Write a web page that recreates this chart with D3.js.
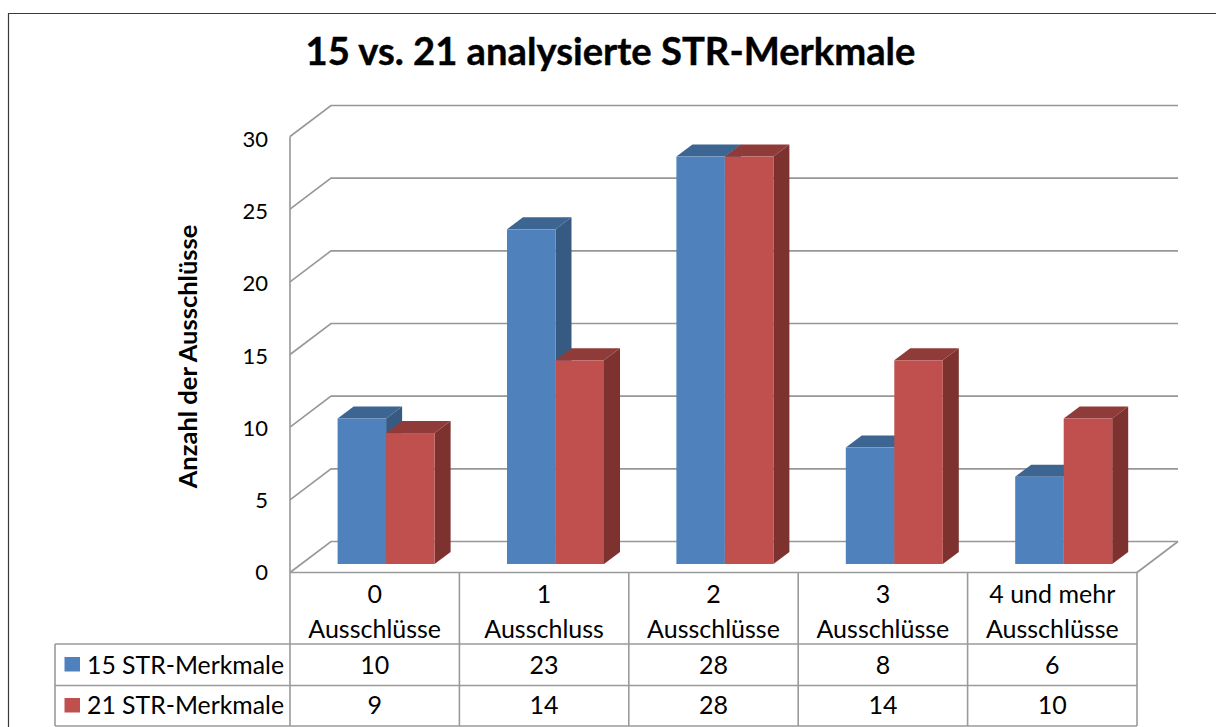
<!DOCTYPE html>
<html><head><meta charset="utf-8">
<script src="https://cdn.jsdelivr.net/npm/d3@7"></script>
<style>html,body{margin:0;padding:0;background:#fff}svg{display:block}text{font-family:Lato,"Open Sans",sans-serif;fill:#000}</style>
</head><body><div id="chart"></div>
<script>
const titleText = "15 vs. 21 analysierte STR-Merkmale";
const yAxisTitle = "Anzahl der Ausschlüsse";
const categories = ["0","1","2","3","4"];
const categoryLines = [["0","Ausschlüsse"],["1","Ausschluss"],["2","Ausschlüsse"],["3","Ausschlüsse"],["4 und mehr","Ausschlüsse"]];
const seriesNames = ["15 STR-Merkmale","21 STR-Merkmale"];
const values15 = [10,23,28,8,6];
const values21 = [9,14,28,14,10];
const yTicks = [0,5,10,15,20,25,30];
const seriesColors = [{front:"#4F81BD",top:"#3C6591",side:"#375A83"},{front:"#C0504D",top:"#8F3B39",side:"#7D3230"}];
const gridColor = "#979797", tableColor = "#9A9A9A";

const W=1216,H=727;
const svg=d3.select("#chart").append("svg").attr("width",W).attr("height",H);
const x0=290,x1=1137,yFloor=572.5,yTop=136.5,depthX=41,depthY=-31,wallRight=1178;
const barBase=564,barDX=16,barDY=-12;
const y=d3.scaleLinear().domain([0,30]).range([yFloor,yTop]);
const yLabel=d3.scaleLinear().domain([0,30]).range([580,147]);
const yBar=d3.scaleLinear().domain([0,30]).range([barBase,barBase-436.5]);
const xCat=d3.scaleBand().domain(categories).range([x0,x1]).paddingInner(0).paddingOuter(0);
const xSer=d3.scaleBand().domain([0,1]).range([47.6,47.6+97]);

// frame
svg.append("path").attr("d",`M8.5 ${H}V13.5H${W}`).attr("fill","none").attr("stroke","#3a3a3a").attr("stroke-width",1.2);

// title
svg.append("text").attr("x",610.5).attr("y",65).attr("text-anchor","middle").attr("font-size",38.2).attr("font-weight",700).attr("stroke","#000").attr("stroke-width",0.4).text(titleText);

// gridlines on walls
const g=svg.append("g").attr("fill","none").attr("stroke",gridColor).attr("stroke-width",1.6);
yTicks.forEach(t=>{
  const yy=y(t);
  g.append("path").attr("d",`M${x0} ${yy}L${x0+depthX} ${yy+depthY}H${wallRight}`);
});
g.append("line").attr("x1",x0).attr("x2",x0).attr("y1",yTop).attr("y2",yFloor);
g.append("line").attr("x1",x1).attr("y1",yFloor).attr("x2",wallRight).attr("y2",yFloor+depthY);

// y tick labels
svg.append("g").selectAll("text").data(yTicks).join("text")
  .attr("x",268).attr("y",d=>yLabel(d)).attr("text-anchor","end").attr("font-size",22).text(d=>d);

// y axis title
svg.append("text").attr("transform","translate(197,356.5) rotate(-90)").attr("text-anchor","middle")
  .attr("font-size",25.5).attr("font-weight",700).text(yAxisTitle);

// bars
const data=[values15,values21];
const bars=svg.append("g");
categories.forEach((c,i)=>{
  data.forEach((vals,s)=>{
    const col=seriesColors[s];
    const xl=xCat(c)+xSer(s), xr=xl+xSer.bandwidth();
    const yt=yBar(vals[i]);
    bars.append("path").attr("fill",col.top).attr("d",`M${xl} ${yt}L${xl+barDX} ${yt+barDY}H${xr+barDX}L${xr} ${yt}Z`);
    bars.append("path").attr("fill",col.side).attr("d",`M${xr} ${yt}L${xr+barDX} ${yt+barDY}V${barBase+barDY}L${xr} ${barBase}Z`);
    bars.append("rect").attr("fill",col.front).attr("x",xl).attr("y",yt).attr("width",xr-xl).attr("height",barBase-yt);
  });
});

// data table
const tableLeft=55,rowYs=[572.5,644,685.5,726];
const t=svg.append("g").attr("fill","none").attr("stroke",tableColor).attr("stroke-width",1.6);
t.append("line").attr("x1",x0).attr("x2",x1).attr("y1",rowYs[0]).attr("y2",rowYs[0]);
[1,2,3].forEach(r=>t.append("line").attr("x1",tableLeft).attr("x2",x1).attr("y1",rowYs[r]).attr("y2",rowYs[r]));
t.append("line").attr("x1",tableLeft).attr("x2",tableLeft).attr("y1",rowYs[1]).attr("y2",rowYs[3]);
const edges=categories.map(c=>xCat(c)).concat([x1]);
edges.forEach(e=>t.append("line").attr("x1",e).attr("x2",e).attr("y1",rowYs[0]).attr("y2",rowYs[3]));

const labels=svg.append("g").attr("font-size",25).attr("text-anchor","middle");
categories.forEach((c,i)=>{
  const cx=xCat(c)+xCat.bandwidth()/2;
  categoryLines[i].forEach((l,k)=>labels.append("text").attr("x",cx).attr("y",602.5+k*35).text(l));
  labels.append("text").attr("x",cx).attr("y",673.5).text(values15[i]);
  labels.append("text").attr("x",cx).attr("y",714).text(values21[i]);
});
seriesNames.forEach((n,s)=>{
  const yy=[657,698][s];
  svg.append("rect").attr("x",64.5).attr("y",yy).attr("width",15.5).attr("height",14.5).attr("fill",seriesColors[s].front);
  svg.append("text").attr("x",87).attr("y",[673.5,714][s]).attr("font-size",24.8).text(n);
});
</script></body></html>
